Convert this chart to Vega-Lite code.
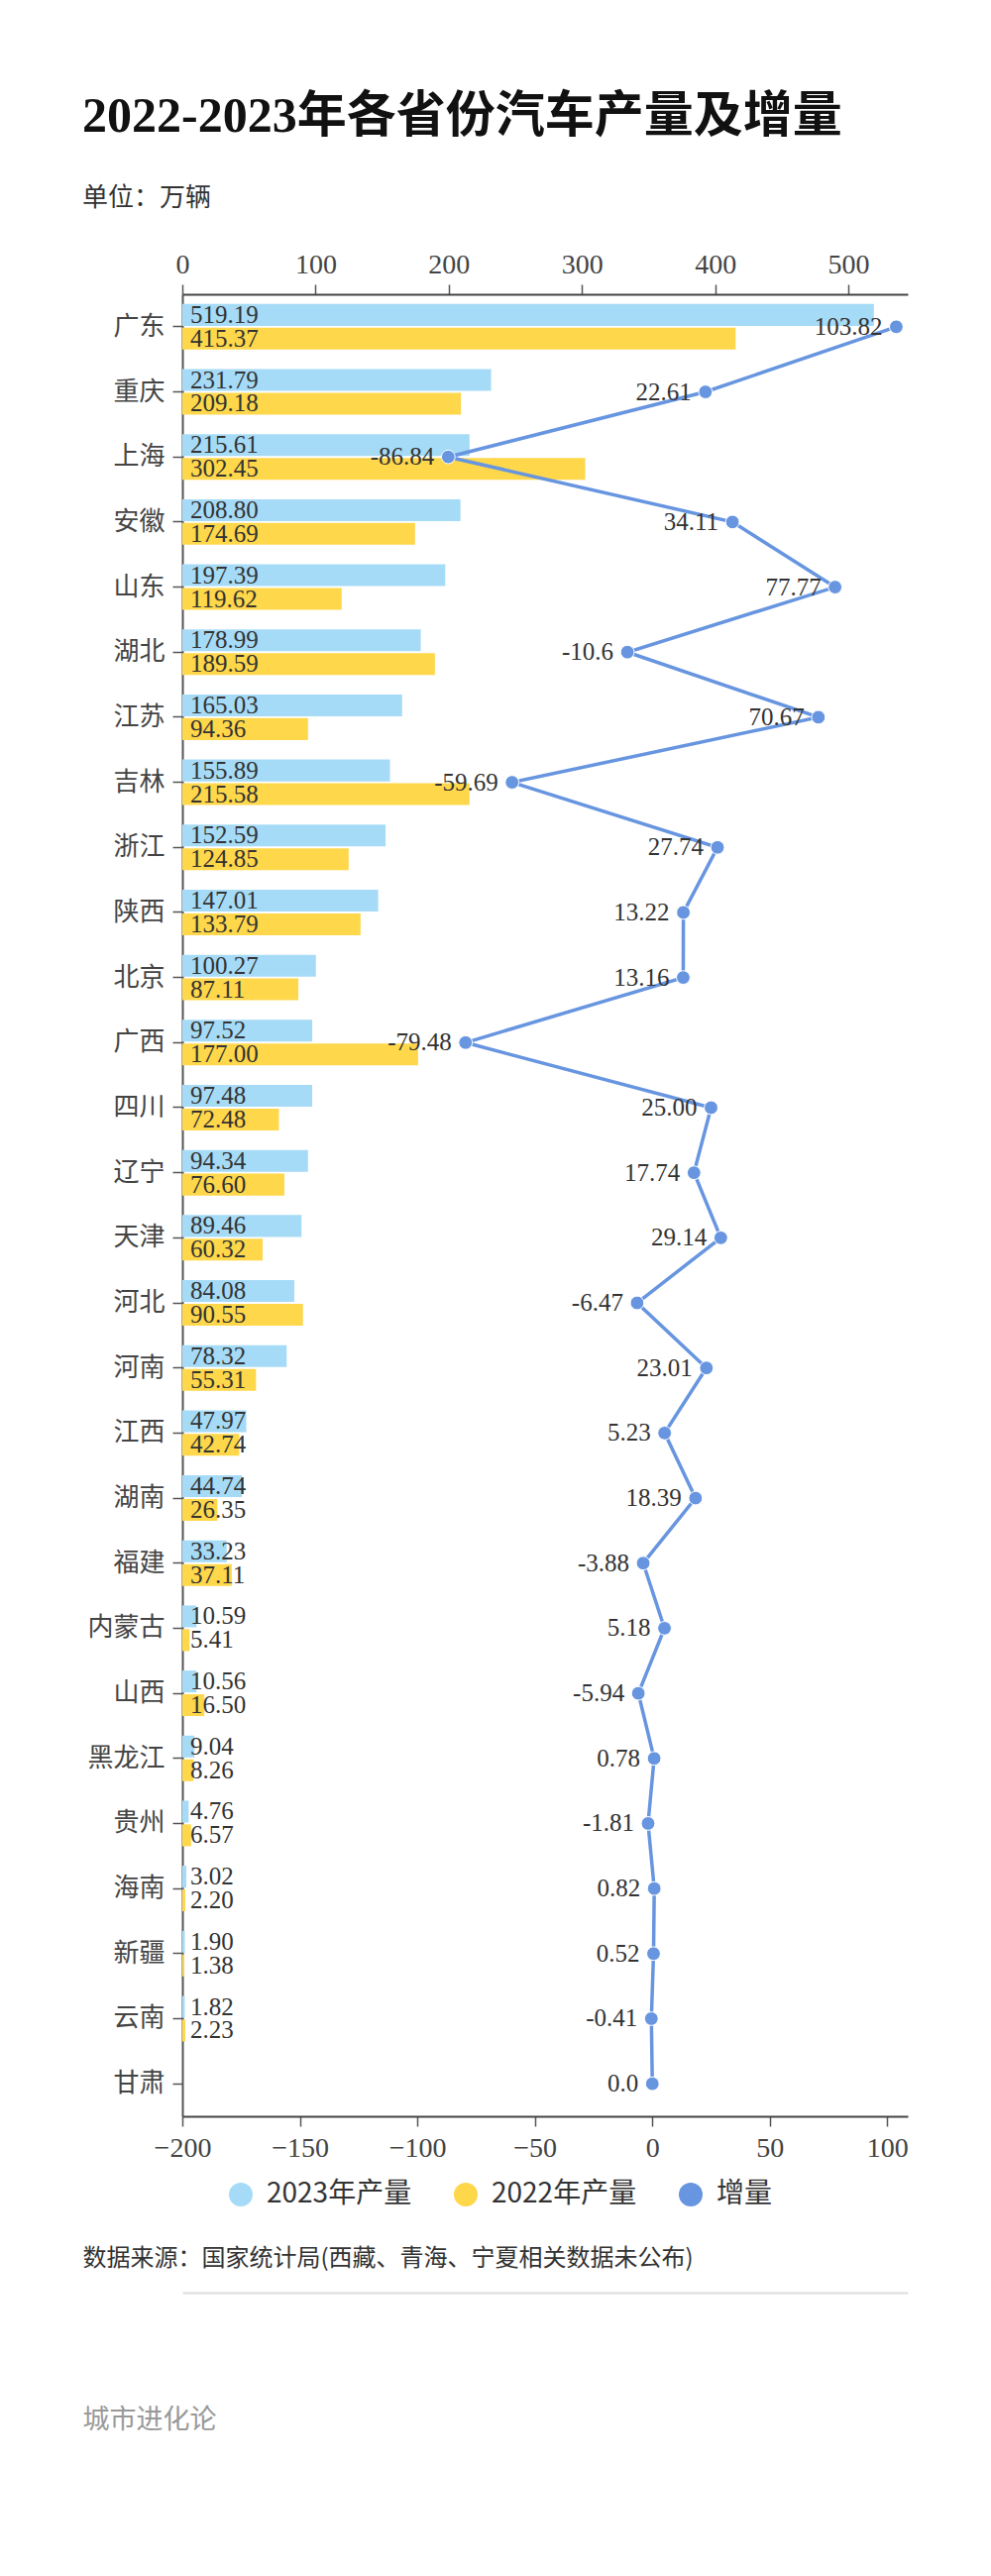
{
  "$schema": "https://vega.github.io/schema/vega-lite/v6.json",
  "width": 732,
  "height": 1839,
  "autosize": {"type": "none"},
  "padding": {"left": 184, "top": 297, "right": 84, "bottom": 464},
  "background": "#ffffff",
  "title": {
    "text": "2022-2023年各省份汽车产量及增量",
    "subtitle": "单位：万辆",
    "anchor": "start",
    "frame": "group",
    "dx": -101,
    "offset": 40,
    "font": "Liberation Serif, Noto Sans CJK SC",
    "fontSize": 50,
    "fontWeight": "bold",
    "color": "#111111",
    "subtitleFont": "Noto Sans CJK SC",
    "subtitleFontSize": 26,
    "subtitleColor": "#333333",
    "subtitlePadding": 44
  },
  "config": {
    "view": {"stroke": null},
    "axis": {"grid": false, "labelOverlap": false, "labelFlush": false}
  },
  "data": {
    "values": [
      {"province": "广东", "2023年产量": 519.19, "2022年产量": 415.37, "growth": 103.82, "glabel": "103.82"},
      {"province": "重庆", "2023年产量": 231.79, "2022年产量": 209.18, "growth": 22.61, "glabel": "22.61"},
      {"province": "上海", "2023年产量": 215.61, "2022年产量": 302.45, "growth": -86.84, "glabel": "-86.84"},
      {"province": "安徽", "2023年产量": 208.80, "2022年产量": 174.69, "growth": 34.11, "glabel": "34.11"},
      {"province": "山东", "2023年产量": 197.39, "2022年产量": 119.62, "growth": 77.77, "glabel": "77.77"},
      {"province": "湖北", "2023年产量": 178.99, "2022年产量": 189.59, "growth": -10.6, "glabel": "-10.6"},
      {"province": "江苏", "2023年产量": 165.03, "2022年产量": 94.36, "growth": 70.67, "glabel": "70.67"},
      {"province": "吉林", "2023年产量": 155.89, "2022年产量": 215.58, "growth": -59.69, "glabel": "-59.69"},
      {"province": "浙江", "2023年产量": 152.59, "2022年产量": 124.85, "growth": 27.74, "glabel": "27.74"},
      {"province": "陕西", "2023年产量": 147.01, "2022年产量": 133.79, "growth": 13.22, "glabel": "13.22"},
      {"province": "北京", "2023年产量": 100.27, "2022年产量": 87.11, "growth": 13.16, "glabel": "13.16"},
      {"province": "广西", "2023年产量": 97.52, "2022年产量": 177.00, "growth": -79.48, "glabel": "-79.48"},
      {"province": "四川", "2023年产量": 97.48, "2022年产量": 72.48, "growth": 25.00, "glabel": "25.00"},
      {"province": "辽宁", "2023年产量": 94.34, "2022年产量": 76.60, "growth": 17.74, "glabel": "17.74"},
      {"province": "天津", "2023年产量": 89.46, "2022年产量": 60.32, "growth": 29.14, "glabel": "29.14"},
      {"province": "河北", "2023年产量": 84.08, "2022年产量": 90.55, "growth": -6.47, "glabel": "-6.47"},
      {"province": "河南", "2023年产量": 78.32, "2022年产量": 55.31, "growth": 23.01, "glabel": "23.01"},
      {"province": "江西", "2023年产量": 47.97, "2022年产量": 42.74, "growth": 5.23, "glabel": "5.23"},
      {"province": "湖南", "2023年产量": 44.74, "2022年产量": 26.35, "growth": 18.39, "glabel": "18.39"},
      {"province": "福建", "2023年产量": 33.23, "2022年产量": 37.11, "growth": -3.88, "glabel": "-3.88"},
      {"province": "内蒙古", "2023年产量": 10.59, "2022年产量": 5.41, "growth": 5.18, "glabel": "5.18"},
      {"province": "山西", "2023年产量": 10.56, "2022年产量": 16.50, "growth": -5.94, "glabel": "-5.94"},
      {"province": "黑龙江", "2023年产量": 9.04, "2022年产量": 8.26, "growth": 0.78, "glabel": "0.78"},
      {"province": "贵州", "2023年产量": 4.76, "2022年产量": 6.57, "growth": -1.81, "glabel": "-1.81"},
      {"province": "海南", "2023年产量": 3.02, "2022年产量": 2.20, "growth": 0.82, "glabel": "0.82"},
      {"province": "新疆", "2023年产量": 1.90, "2022年产量": 1.38, "growth": 0.52, "glabel": "0.52"},
      {"province": "云南", "2023年产量": 1.82, "2022年产量": 2.23, "growth": -0.41, "glabel": "-0.41"},
      {"province": "甘肃", "growth": 0.0, "glabel": "0.0"}
    ]
  },
  "layer": [
    {
      "transform": [
        {"fold": ["2023年产量", "2022年产量"], "as": ["series", "value"]},
        {"filter": "isValid(datum.value)"}
      ],
      "encoding": {
        "y": {
          "field": "province",
          "type": "nominal",
          "scale": {
            "domain": ["广东","重庆","上海","安徽","山东","湖北","江苏","吉林","浙江","陕西","北京","广西","四川","辽宁","天津","河北","河南","江西","湖南","福建","内蒙古","山西","黑龙江","贵州","海南","新疆","云南","甘肃"],
            "paddingInner": 0.3,
            "paddingOuter": 0.15
          },
          "axis": {
            "title": "城市进化论",
            "titleX": -101,
            "titleY": 2145,
            "titleAngle": 0,
            "titleAlign": "left",
            "titleBaseline": "middle",
            "titleColor": "#999999",
            "titleFont": "Noto Sans CJK SC",
            "titleFontSize": 27,
            "titleFontWeight": "normal",
            "labelFont": "Noto Sans CJK SC",
            "labelFontSize": 26,
            "labelColor": "#444444",
            "labelPadding": 8,
            "tickSize": 10,
            "tickColor": "#555555",
            "tickWidth": 1.5,
            "domainColor": "#555555",
            "domainWidth": 2
          }
        },
        "yOffset": {
          "field": "series",
          "type": "nominal",
          "scale": {"domain": ["2023年产量", "2022年产量"], "paddingInner": 0.08}
        }
      },
      "layer": [
        {
          "mark": {"type": "bar"},
          "encoding": {
            "x": {
              "field": "value",
              "type": "quantitative",
              "scale": {"domain": [0, 544.6], "nice": false, "zero": true},
              "axis": {
                "orient": "top",
                "values": [0, 100, 200, 300, 400, 500],
                "title": null,
                "tickSize": 10,
                "tickColor": "#555555",
                "tickWidth": 1.5,
                "domainColor": "#444444",
                "domainWidth": 2,
                "labelFont": "Liberation Serif",
                "labelFontSize": 28,
                "labelColor": "#444444",
                "labelPadding": 6
              }
            },
            "color": {
              "field": "series",
              "type": "nominal",
              "scale": {"domain": ["2023年产量", "2022年产量", "增量"], "range": ["#a6dbf7", "#fed74a", "#6795e0"]},
              "legend": {
                "orient": "none",
                "legendX": 45,
                "legendY": 1904,
                "direction": "horizontal",
                "title": null,
                "symbolType": "circle",
                "symbolSize": 576,
                "symbolStrokeWidth": 0,
                "symbolOpacity": 1,
                "labelFont": "Noto Sans CJK SC",
                "labelFontSize": 28,
                "labelColor": "#333333",
                "labelOffset": 12,
                "columnPadding": 40
              }
            }
          }
        },
        {
          "mark": {"type": "text", "align": "left", "baseline": "middle", "dx": 8, "font": "Liberation Serif", "fontSize": 25, "color": "#333333"},
          "encoding": {
            "x": {"datum": 0, "type": "quantitative"},
            "text": {"field": "value", "type": "quantitative", "format": ".2f"}
          }
        }
      ]
    },
    {
      "encoding": {
        "y": {"field": "province", "type": "nominal"},
        "x": {
          "field": "growth",
          "type": "quantitative",
          "scale": {"domain": [-200, 108.7], "nice": false, "zero": false},
          "axis": {
            "orient": "bottom",
            "values": [-200, -150, -100, -50, 0, 50, 100],
            "title": "数据来源：国家统计局(西藏、青海、宁夏相关数据未公布)",
            "titleX": -101,
            "titleY": 143,
            "titleAlign": "left",
            "titleAnchor": "start",
            "titleBaseline": "middle",
            "titleColor": "#333333",
            "titleFont": "Noto Sans CJK SC",
            "titleFontSize": 24,
            "titleFontWeight": "normal",
            "tickSize": 10,
            "tickColor": "#555555",
            "tickWidth": 1.5,
            "domainColor": "#444444",
            "domainWidth": 2,
            "labelFont": "Liberation Serif",
            "labelFontSize": 28,
            "labelColor": "#444444",
            "labelPadding": 8
          }
        }
      },
      "layer": [
        {
          "mark": {"type": "line", "color": "#6795e0", "strokeWidth": 3.5},
          "encoding": {"order": {"value": null}}
        },
        {
          "mark": {"type": "point", "filled": true, "fill": "#6795e0", "stroke": "#ffffff", "strokeWidth": 1, "size": 190, "opacity": 1}
        },
        {
          "mark": {"type": "text", "align": "right", "baseline": "middle", "dx": -14, "font": "Liberation Serif", "fontSize": 25, "color": "#333333"},
          "encoding": {"text": {"field": "glabel", "type": "nominal"}}
        }
      ]
    },
    {
      "mark": {"type": "point", "opacity": 0},
      "encoding": {
        "y": {"field": "province", "type": "nominal"},
        "x": {
          "field": "growth",
          "type": "quantitative",
          "scale": {"domain": [-200, 108.7], "nice": false, "zero": false},
          "axis": {
            "orient": "bottom",
            "offset": 178,
            "title": null,
            "labels": false,
            "ticks": false,
            "domainColor": "#dddddd",
            "domainWidth": 2
          }
        }
      }
    }
  ],
  "resolve": {"scale": {"x": "independent"}, "axis": {"x": "independent"}}
}
